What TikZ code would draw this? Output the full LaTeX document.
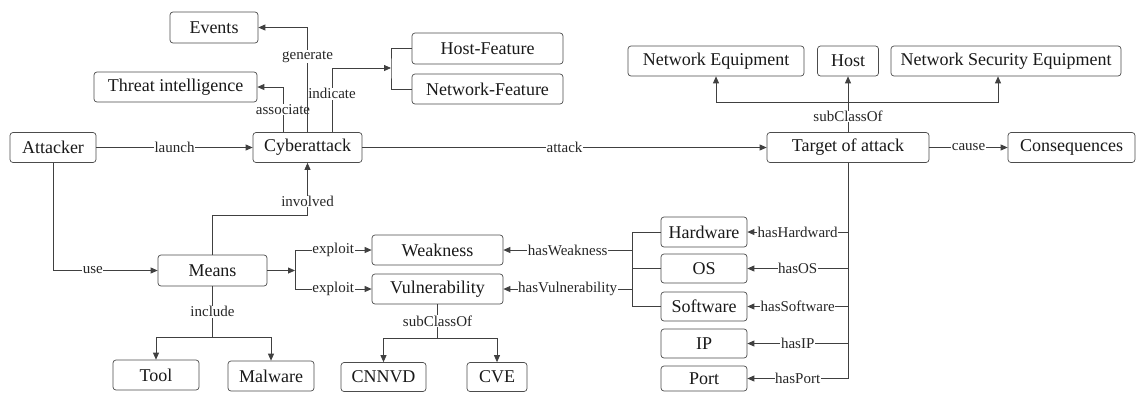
\documentclass[tikz,border=0pt]{standalone}
\usepackage{fontspec}
\newfontfamily\diagfont{Liberation Serif}
\usetikzlibrary{arrows.meta}

\begin{document}
\begin{tikzpicture}[x=1pt,y=-1pt,
  box/.style={draw=black!70, rounded corners=3pt, line width=0.7pt, fill=white,
    inner sep=0pt, font=\diagfont\fontsize{18}{18}\selectfont, text=black!90},
  lbl/.style={fill=white, inner sep=0.6pt, font=\diagfont\fontsize{15}{15}\selectfont, text=black!85},
  link/.style={draw=black!75, line width=0.8pt},
  arr/.style={link, -{Triangle[length=7pt,width=6pt]}}]
\useasboundingbox (0,0) rectangle (1137,392);

% concept boxes
\node[box, minimum width=88,  minimum height=31] (events)   at (214,27.5)   {Events};
\node[box, minimum width=163, minimum height=30] (threat)   at (175.5,87)   {Threat intelligence};
\node[box, minimum width=86,  minimum height=30] (attacker) at (53,147.5)   {Attacker};
\node[box, minimum width=109, minimum height=30] (cyber)    at (307.5,147.5){Cyberattack};
\node[box, minimum width=151, minimum height=31] (hostf)    at (487.5,48.5) {Host-Feature};
\node[box, minimum width=151, minimum height=30] (netf)     at (487.5,89)   {Network-Feature};
\node[box, minimum width=176, minimum height=30] (neteq)    at (716,61)     {Network Equipment};
\node[box, minimum width=61,  minimum height=30] (host)     at (848,61)     {Host};
\node[box, minimum width=230, minimum height=30] (nse)      at (1006,61)    {Network Security Equipment};
\node[box, minimum width=162, minimum height=30] (target)   at (848,147.5)  {Target of attack};
\node[box, minimum width=127, minimum height=30] (conseq)   at (1071.5,147.5){Consequences};
\node[box, minimum width=109, minimum height=31] (means)    at (212.5,270.5){Means};
\node[box, minimum width=131, minimum height=30] (weak)     at (437.5,250)  {Weakness};
\node[box, minimum width=131, minimum height=30] (vuln)     at (437.5,289)  {Vulnerability};
\node[box, minimum width=86,  minimum height=30] (tool)     at (156,375)    {Tool};
\node[box, minimum width=86,  minimum height=30] (malware)  at (271,376)    {Malware};
\node[box, minimum width=85,  minimum height=29] (cnnvd)    at (383.5,377)  {CNNVD};
\node[box, minimum width=60,  minimum height=29] (cve)      at (497,377)    {CVE};
\node[box, minimum width=86,  minimum height=30] (hw)       at (704,232)    {Hardware};
\node[box, minimum width=86,  minimum height=29] (os)       at (704,268.5)  {OS};
\node[box, minimum width=86,  minimum height=29] (sw)       at (704,306.5)  {Software};
\node[box, minimum width=86,  minimum height=29] (ip)       at (704,343.5)  {IP};
\node[box, minimum width=86,  minimum height=25] (port)     at (704,378.5)  {Port};

% helper points for elbows and brackets
\coordinate (ib)   at (391,68);
\coordinate (sc)   at (848,102);
\coordinate (invY) at (0,215);
\coordinate (mb)   at (295,270.5);
\coordinate (incY) at (0,337);
\coordinate (vY)   at (0,338);
\coordinate (hb)   at (632,0);
\coordinate (tb)   at (848,0);

% main chain
\draw[arr] (attacker) -- node[lbl]{launch} (cyber);
\draw[arr] (cyber) -- node[lbl]{attack} (target);
\draw[arr] (target) -- node[lbl]{cause} (conseq);

% target subclasses
\draw[arr] (target.north) -- node[lbl,pos=0.28]{subClassOf} (host.south);
\draw[arr] (sc) -| (neteq.south);
\draw[arr] (sc) -| ([xshift=-8pt]nse.south);

% relations leaving the cyberattack upwards
\draw[arr] ([xshift=-24.5pt]cyber.north) |- node[lbl,pos=0.25]{associate} (threat.east);
\draw[arr] ([xshift=24.5pt]cyber.north) |- node[lbl,pos=0.3]{indicate} (ib);
\draw[arr] (cyber.north) |- node[lbl,pos=0.36]{generate} (events.east);
\draw[link] (hostf.west) -| (ib) |- (netf.west);

% attacker uses means, means involved in the attack
\draw[arr] (attacker.south) |- node[lbl,pos=0.69]{use} (means.west);
\draw[arr] (means.north) -- (means.north |- invY) -| node[lbl,pos=0.63]{involved} (cyber.south);

% means exploit weakness / vulnerability
\draw[arr] (means.east) -- (mb);
\draw[link] (mb |- weak) -- (mb |- vuln);
\draw[arr] (mb |- weak) -- node[lbl]{exploit} (weak.west);
\draw[arr] (mb |- vuln) -- node[lbl]{exploit} (vuln.west);

% means include tool / malware
\draw[link] (means.south) -- node[lbl]{include} (means.south |- incY);
\draw[arr] (means.south |- incY) -| (tool.north);
\draw[arr] (means.south |- incY) -| (malware.north);

% vulnerability subclasses
\draw[link] (vuln.south) -- node[lbl]{subClassOf} (vuln.south |- vY);
\draw[arr] (vuln.south |- vY) -| (cnnvd.north);
\draw[arr] (vuln.south |- vY) -| (cve.north);

% components have weaknesses / vulnerabilities
\draw[link] (hw.west) -- (hw.west -| hb) -- (sw.west -| hb) -- (sw.west);
\draw[link] (os.west) -- (os.west -| hb);
\draw[arr] (weak.east -| hb) -- node[lbl]{hasWeakness} (weak.east);
\draw[arr] (vuln.east -| hb) -- node[lbl]{hasVulnerability} (vuln.east);

% target components
\draw[link] (target.south) -- (port.east -| tb);
\draw[arr] (hw.east -| tb) -- node[lbl]{hasHardward} (hw.east);
\draw[arr] (os.east -| tb) -- node[lbl]{hasOS} (os.east);
\draw[arr] (sw.east -| tb) -- node[lbl]{hasSoftware} (sw.east);
\draw[arr] (ip.east -| tb) -- node[lbl]{hasIP} (ip.east);
\draw[arr] (port.east -| tb) -- node[lbl]{hasPort} (port.east);
\end{tikzpicture}
\end{document}
